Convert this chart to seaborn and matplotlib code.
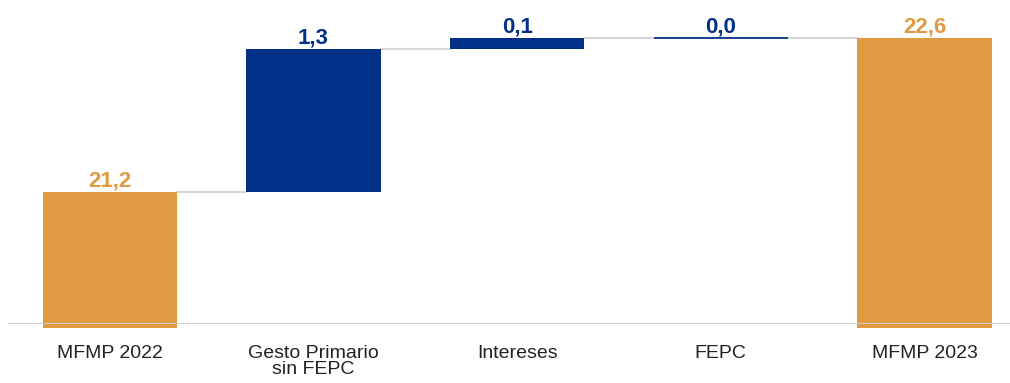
import numpy as np
import pandas as pd
import matplotlib
matplotlib.use("Agg")
import matplotlib.pyplot as plt
import seaborn as sns

categories = ["MFMP 2022", "Gesto Primario\nsin FEPC", "Intereses", "FEPC", "MFMP 2023"]
values = [21.2, 1.3, 0.1, 0.0, 22.6]
kinds = ["total", "delta", "delta", "delta", "total"]
labels = ["21,2", "1,3", "0,1", "0,0", "22,6"]

ORANGE = "#E09A42"
BLUE = "#003087"
BASE = 20.0

sns.set_style("white")
plt.rcParams["font.family"] = ["Liberation Sans", "DejaVu Sans"]

# waterfall geometry
bottoms, heights, tops = [], [], []
running = 0.0
for v, k in zip(values, kinds):
    if k == "total":
        bottoms.append(BASE - 0.035)
        heights.append(v - BASE + 0.035)
        running = v
    else:
        bottoms.append(running)
        heights.append(v)
        running += v
    tops.append(bottoms[-1] + heights[-1])

df = pd.DataFrame({"cat": categories, "height": heights})

fig = plt.figure(figsize=(10.10, 3.83), dpi=100)
ax = fig.add_axes([8 / 1010, 59 / 383, 1002 / 1010, 324 / 383])
sns.barplot(data=df, x="cat", y="height", bottom=bottoms, width=0.66,
            color=BLUE, ax=ax, clip_on=False, zorder=3)

for p, k, v in zip(ax.patches, kinds, values):
    p.set_facecolor(ORANGE if k == "total" else BLUE)
    p.set_edgecolor("none")
    if k == "delta" and v == 0:
        p.set_edgecolor(BLUE)
        p.set_linewidth(1.3)

ax.set_xlim(-0.5, 4.42)
ax.set_ylim(BASE, BASE + 324 / 110)

# connectors
half = 0.33
for i in range(len(values) - 1):
    lvl = tops[i]
    ax.plot([i + half, i + 1 - half], [lvl, lvl], color="#d6d6d6", lw=1.5, zorder=2)

ax.axhline(BASE, color="#d0d0d0", lw=1.5, zorder=4)

# value labels
for i, (t, lab, k) in enumerate(zip(tops, labels, kinds)):
    ax.text(i, t + 0.005, lab, ha="center", va="bottom", fontsize=16, fontweight="bold",
            color=ORANGE if k == "total" else BLUE)

ax.set_xlabel("")
ax.set_ylabel("")
ax.set_yticks([])
ax.tick_params(axis="x", length=0, pad=15, labelsize=14, labelcolor="#222222")
ax.set_xticks(range(len(categories)))
ax.set_xticklabels(categories, linespacing=0.95, va="top")
sns.despine(ax=ax, left=True, bottom=True)

fig.savefig("out.png", dpi=100)
